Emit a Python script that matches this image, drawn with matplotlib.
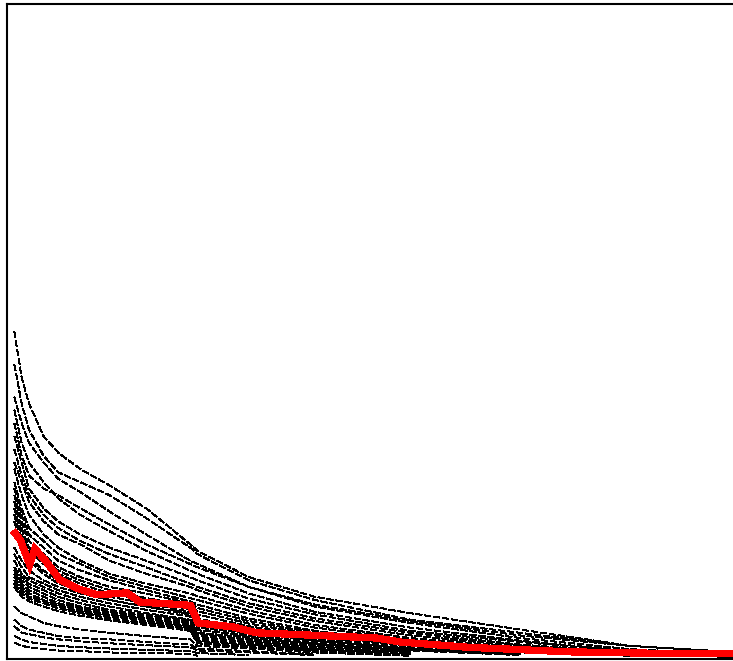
import matplotlib
matplotlib.use('Agg')
import matplotlib.pyplot as plt

# shared x positions for the black runs
X = [1, 2, 3, 5, 7, 10, 14, 19, 25, 26, 33, 42, 55, 70, 85, 100]

runs = [
    # high starts
    [50, 43, 39, 34, 31.5, 29, 26.5, 23, 17.5, 16.5, 12.5, 9.5, 7, 4.5, 2, 1],
    [45, 39, 35, 31, 28.5, 27, 25, 21.5, 17, 16, 12, 9, 6, 4, 2, 1],
    [40, 36, 33, 30, 27.5, 25.5, 22.5, 19, 15, 14.5, 11, 8, 5.5, 3.2, 1.5, 0.7],
    [38, 33, 30, 27, 24.5, 22, 19.5, 16.5, 13.5, 13, 10, 7.2, 4.8, 2.8, 1.2, 0.6],
    [36, 31, 28, 26, 25, 23, 20.5, 17.5, 14.5, 14, 11, 8.3, 5.8, 3.6, 2, 1],
    [34, 30, 26, 23, 21, 19, 17, 15, 12.5, 12, 9.2, 6.8, 4.3, 2.6, 1.2, 0.5],
    [32, 28, 25, 22, 20, 18, 16, 14, 11.5, 11, 8.5, 6.2, 4, 2.2, 1, 0.5],
    [30, 27, 24, 21, 19, 17.5, 15, 13, 11, 10.5, 8, 5.8, 3.6, 2, 1, 0.4],
    # middle
    [29, 25, 22, 19, 17, 15, 13, 11.5, 10, 9.6, 7.4, 5.2, 3.2, 1.8, 0.9, 0.4],
    [27, 23, 20, 18, 16, 14.5, 12.5, 11, 9.3, 9, 6.9, 4.8, 2.9, 1.5, 0.8, 0.3],
    [26, 22, 19, 17, 15, 13.5, 12, 10.5, 8.8, 8.3, 6.2, 4.3, 2.6, 1.4, 0.7, 0.3],
    [25, 21, 18, 16, 14, 12.5, 11, 10, 8.5, 7.8, 5.8, 4, 2.4, 1.2, 0.6],
    [24, 20, 17, 15, 13.5, 12, 10.5, 9.3, 8.1, 7.3, 5.4, 3.7, 2.1, 1.1, 0.5],
    [23, 19, 16.5, 14.5, 13, 11.5, 10, 9, 7.6, 6.8, 5, 3.4, 2, 1, 0.5],
    [22, 18, 15.5, 13.5, 12, 11, 9.5, 8.5, 7.2, 6.2, 4.5, 3.1, 1.8, 0.9],
    [21, 17, 15, 13, 11.5, 10.5, 9, 8, 6.8, 5.5, 4.1, 2.8, 1.6, 0.8],
    # dense band
    [17, 15, 13.5, 12, 11, 10, 9, 8, 7, 4.8, 3.9, 2.8, 1.6, 0.8],
    [16, 14, 12.5, 11.5, 10.5, 9.5, 8.5, 7.5, 6.5, 4.4, 3.6, 2.5, 1.4, 0.7],
    [15, 13, 12, 11, 10, 9, 8, 7, 6, 4, 3.3, 2.3, 1.3, 0.6],
    [14, 12.5, 11.5, 10.5, 9.5, 8.5, 7.5, 6.8, 5.8, 3.8, 3, 2.2, 1.2],
    [13.5, 12, 11, 10, 9, 8, 7.2, 6.5, 5.5, 3.5, 2.8, 2, 1.1],
    [13, 11.5, 10.5, 9.5, 8.5, 7.8, 7, 6.2, 5.2, 3.3, 2.6, 1.8, 1],
    [12.5, 11, 10, 9, 8.2, 7.5, 6.7, 6, 5, 3, 2.4, 1.6, 0.9],
    [12, 10.5, 9.5, 8.8, 8, 7.2, 6.5, 5.8, 4.8, 2.8, 2.2, 1.5, 0.8],
    [11.5, 10, 9.2, 8.5, 7.7, 7, 6.2, 5.5, 4.5, 2.6, 2, 1.3, 0.7],
    [11, 9.5, 8.8, 8, 7.3, 6.6, 5.9, 5.2, 4.3, 2.4, 1.8, 1.2],
    # low starts
    [8, 7, 6.5, 5.5, 5, 4.5, 4, 3.5, 3, 2, 1.6, 1, 0.5],
    [6, 5, 4.5, 4, 3.5, 3.2, 3, 2.6, 2.2, 1.6, 1.2, 0.7],
    [5, 4, 3.8, 3.3, 3, 2.7, 2.4, 2.1, 1.8, 1.3, 1, 0.6],
    [3.5, 3, 2.6, 2.3, 2, 1.8, 1.6, 1.4, 1.2, 0.9, 0.6],
    [2.5, 2, 1.8, 1.5, 1.3, 1.2, 1, 0.9, 0.8, 0.5],
]

# the highlighted run
red_x = [1.1, 1.8, 3.1, 3.8, 5.2, 7.2, 9.5, 12.3, 16.4, 18.1, 25.0, 26.1, 30.8, 34.1, 50.5, 53.6, 62.8, 76.4, 86.8, 100]
red_y = [19.2, 18.2, 14.4, 16.8, 15.1, 12.1, 10.8, 9.8, 10.1, 8.7, 8.2, 5.5, 4.9, 4.0, 3.2, 2.6, 1.8, 1.1, 0.9, 0.8]

fig = plt.figure(figsize=(7.33, 6.61), dpi=100)
ax = fig.add_axes([7/733, 2/661, 1.0, 655/661])

for r in runs:
    ax.plot(X[:len(r)], r, color='black', lw=1.0, dashes=(5, 2), antialiased=False)
ax.plot(red_x, red_y, color='red', lw=4.5, solid_joinstyle='miter', antialiased=False)

ax.set_xlim(0, 100)
ax.set_ylim(0, 100)
ax.set_xticks([])
ax.set_yticks([])
for s in ax.spines.values():
    s.set_linewidth(1.5)

plt.savefig('out.png', dpi=100)
